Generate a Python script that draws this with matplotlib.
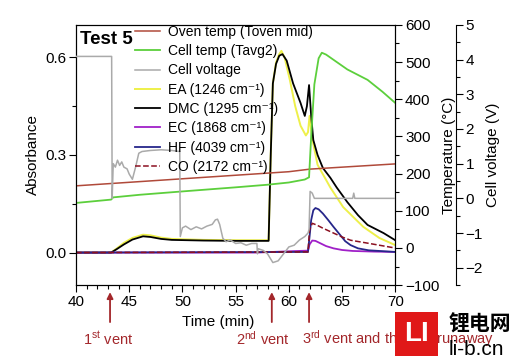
import matplotlib
matplotlib.use("Agg")
import matplotlib.pyplot as plt
from matplotlib.patches import Rectangle
from matplotlib.ticker import MultipleLocator

plt.rcParams['font.family'] = ['Liberation Sans', 'DejaVu Sans']
plt.rcParams['mathtext.fontset'] = 'custom'
plt.rcParams['mathtext.rm'] = 'Liberation Sans'
plt.rcParams['mathtext.it'] = 'Liberation Sans'
plt.rcParams['font.size'] = 11

# ---- data ----
t_oven = [40, 50, 60, 62, 70]
oven = [167, 186, 205, 212, 226]

t_cell = [40, 43.3, 43.5, 46, 50, 55, 58, 60, 61.5, 61.9, 62.1, 62.4, 62.8, 63.1,
          63.5, 64.2, 65.5, 67.4, 68.8, 70]
cell = [121, 130, 136, 143, 152, 163, 170, 176, 184, 190, 300, 440, 510, 525,
        520, 506, 480, 452, 420, 390]

t_volt = [40, 43.35, 43.4, 43.5, 43.7, 43.9, 44.1, 44.3, 44.5, 44.8, 45.0, 45.3,
          45.6, 45.9, 46.2, 47, 48, 49, 49.75, 49.8, 50.0, 50.3, 50.8, 51.3, 51.8,
          52.3, 52.8, 53.1, 53.3, 53.5, 53.8, 54.1, 54.5, 55, 55.5, 56, 56.5,
          57.0, 57.05, 57.1, 57.6, 58, 58.5, 59, 59.5, 60, 60.5, 61, 61.5, 61.8,
          61.9, 62.0, 62.2, 62.4, 63, 64, 65, 66, 66.1, 66.2, 67, 70]
volt = [4.09, 4.09, 0.0, 1.0, 0.9, 1.1, 0.95, 1.05, 0.9, 0.85, 0.7, 0.55,
        0.9, 1.3, 1.35, 1.38, 1.4, 1.38, 1.35, -1.1, -0.85, -0.8, -0.9, -0.82, -0.88,
        -0.8, -0.75, -0.62, -0.6, -0.75, -1.15, -1.25, -1.2, -1.3, -1.28, -1.35, -1.3,
        -1.3, -1.6, -1.45, -1.5, -1.6, -1.85, -1.8, -1.6, -1.4, -1.35, -1.2, -1.1, -1.0,
        -0.9, 0.2, 0.15, 0.0, 0.0, 0.0, 0.0, 0.0, 0.15, 0.0, 0.0, 0.0]

t_ea = [40, 43.3, 43.8, 44.5, 45.3, 46.3, 47, 48, 49, 52, 55, 58.1, 58.3, 58.5,
        58.8, 59.1, 59.3, 59.6, 60.1, 60.6, 61.1, 61.6, 61.8, 61.95, 62.2, 62.7,
        63.9, 65.1, 67.0, 68.5, 70]
ea = [0, 0, 0.012, 0.03, 0.045, 0.055, 0.053, 0.046, 0.042, 0.039, 0.038, 0.038,
      0.3, 0.52, 0.585, 0.61, 0.62, 0.6, 0.53, 0.45, 0.39, 0.36, 0.37, 0.42, 0.35,
      0.27, 0.2, 0.14, 0.079, 0.045, 0.023]

t_dmc = [40, 43.3, 43.8, 44.5, 45.3, 46.3, 47, 48, 49, 52, 55, 58.1, 58.3, 58.5,
         58.8, 59.1, 59.4, 59.8, 60.4, 61.1, 61.5, 61.7, 61.9, 62.1, 62.3, 62.7,
         63.2, 63.9, 64.5, 65.5, 66.5, 67.4, 68.9, 70]
dmc = [0, 0, 0.01, 0.025, 0.04, 0.05, 0.048, 0.042, 0.039, 0.037, 0.036, 0.036,
       0.3, 0.52, 0.58, 0.605, 0.61, 0.59, 0.52, 0.46, 0.42, 0.45, 0.515, 0.42,
       0.346, 0.3, 0.26, 0.23, 0.2, 0.155, 0.115, 0.085, 0.06, 0.038]

t_ec = [40, 57, 58.5, 60, 61.8, 61.95, 62.2, 62.5, 63, 63.5, 64.2, 65, 66, 68, 70]
ec = [0, 0, 0.002, 0.004, 0.006, 0.025, 0.037, 0.036, 0.028, 0.02, 0.013, 0.008,
      0.005, 0.003, 0.002]

t_hf = [40, 61.8, 61.95, 62.1, 62.3, 62.5, 62.8, 63.2, 63.7, 64.2, 64.8, 65.3,
        65.8, 66.5, 67.5, 70]
hf = [0, 0.002, 0.05, 0.1, 0.13, 0.137, 0.133, 0.12, 0.1, 0.079, 0.055, 0.035,
      0.023, 0.013, 0.007, 0.002]

t_co = [40, 61.8, 61.95, 62.2, 62.6, 63.2, 64.2, 65, 65.8, 67.4, 70]
co = [0, 0.002, 0.07, 0.09, 0.085, 0.075, 0.06, 0.048, 0.038, 0.029, 0.014]

vent_times = [43.2, 58.4, 61.9]
vent_labels = ['1$^{\\rm st}$ vent', '2$^{\\rm nd}$ vent',
               '3$^{\\rm rd}$ vent and thermal runaway']

# ---- figure ----
fig = plt.figure(figsize=(5.1, 3.6), dpi=100)
ax = fig.add_axes([0.149, 0.208, 0.626, 0.723])
axT = ax.twinx()
axV = ax.twinx()
axV.spines['right'].set_position(('axes', 1.19))
for s in ['top', 'left', 'bottom']:
    axV.spines[s].set_visible(False)

l_ea, = ax.plot(t_ea, ea, color='#eef04a', lw=1.4, label='EA (1246 cm⁻¹)')
l_dmc, = ax.plot(t_dmc, dmc, color='black', lw=1.3, label='DMC (1295 cm⁻¹)')
l_ec, = ax.plot(t_ec, ec, color='#a020c8', lw=1.3, label='EC (1868 cm⁻¹)')
l_hf, = ax.plot(t_hf, hf, color='#26268a', lw=1.3, label='HF (4039 cm⁻¹)')
l_co, = ax.plot(t_co, co, color='#8b1020', lw=1.1, ls='--', label='CO (2172 cm⁻¹)')

l_oven, = axT.plot(t_oven, oven, color='#b04a3a', lw=1.1, label='Oven temp (Toven mid)')
l_cell, = axT.plot(t_cell, cell, color='#5ccf3c', lw=1.3, label='Cell temp (Tavg2)')
l_volt, = axV.plot(t_volt, volt, color='#aaaaaa', lw=1.1, label='Cell voltage')

ax.set_xlim(40, 70)
ax.set_ylim(-0.1, 0.7)
axT.set_ylim(-100, 600)
axV.set_ylim(-2.5, 5)

ax.xaxis.set_major_locator(MultipleLocator(5))
ax.xaxis.set_minor_locator(MultipleLocator(1))
ax.yaxis.set_major_locator(MultipleLocator(0.3))
ax.yaxis.set_minor_locator(MultipleLocator(0.15))
axT.yaxis.set_major_locator(MultipleLocator(100))
axT.yaxis.set_minor_locator(MultipleLocator(50))
axV.yaxis.set_major_locator(MultipleLocator(1))
axV.yaxis.set_minor_locator(MultipleLocator(0.5))
ax.yaxis.set_major_formatter(lambda v, p: f'{v:.1f}')

for a in (ax, axT, axV):
    a.tick_params(which='major', length=5, width=0.8, labelsize=11, pad=2)
    a.tick_params(which='minor', length=3, width=0.8)

ax.set_ylabel('Absorbance', fontsize=11, labelpad=4)
axT.set_ylabel('Temperature (°C)', fontsize=11, labelpad=2)
axV.set_ylabel('Cell voltage (V)', fontsize=11, labelpad=2)
ax.set_xlabel('Time (min)', fontsize=11)
ax.xaxis.set_label_coords(0.445, -0.115)

ax.text(0.012, 0.942, 'Test 5', transform=ax.transAxes, fontsize=13.5,
        fontweight='bold', va='center', ha='left')

handles = [l_oven, l_cell, l_volt, l_ea, l_dmc, l_ec, l_hf, l_co]
axV.legend(handles=handles, labels=[h.get_label() for h in handles],
           loc='upper left', bbox_to_anchor=(0.185, 1.0), frameon=False,
           fontsize=10, borderpad=0, borderaxespad=0, labelspacing=0.38,
           handlelength=1.8, handletextpad=0.6)

# vent arrows below the axis
red = '#a3272b'
for tv in vent_times:
    ax.annotate('', xy=(tv, -0.027), xytext=(tv, -0.142),
                xycoords=('data', 'axes fraction'),
                arrowprops=dict(arrowstyle='-|>', color=red, lw=1.3,
                                mutation_scale=9, shrinkA=0, shrinkB=0),
                annotation_clip=False)
ax.text(43.0, -0.205, vent_labels[0], transform=ax.get_xaxis_transform(),
        ha='center', va='center', color=red, fontsize=10.5)
ax.text(57.6, -0.205, vent_labels[1], transform=ax.get_xaxis_transform(),
        ha='center', va='center', color=red, fontsize=10.5)
ax.text(61.25, -0.205, vent_labels[2], transform=ax.get_xaxis_transform(),
        ha='left', va='center', color=red, fontsize=10.5)

# site watermark, bottom right
fig.patches.append(Rectangle((0.775, 0.011), 0.084, 0.122, transform=fig.transFigure,
                             facecolor='#e01818', edgecolor='none', zorder=5))
fig.text(0.817, 0.072, 'LI', color='white', fontsize=20, fontweight='bold',
         ha='center', va='center', zorder=6)
fig.text(0.94, 0.1, '锂电网', family=['Noto Sans CJK SC'], fontsize=15,
         fontweight='bold', ha='center', va='center', zorder=6)
fig.text(0.935, 0.03, 'li-b.cn', fontsize=15, ha='center', va='center', zorder=6)

fig.savefig('out.png', dpi=100)
